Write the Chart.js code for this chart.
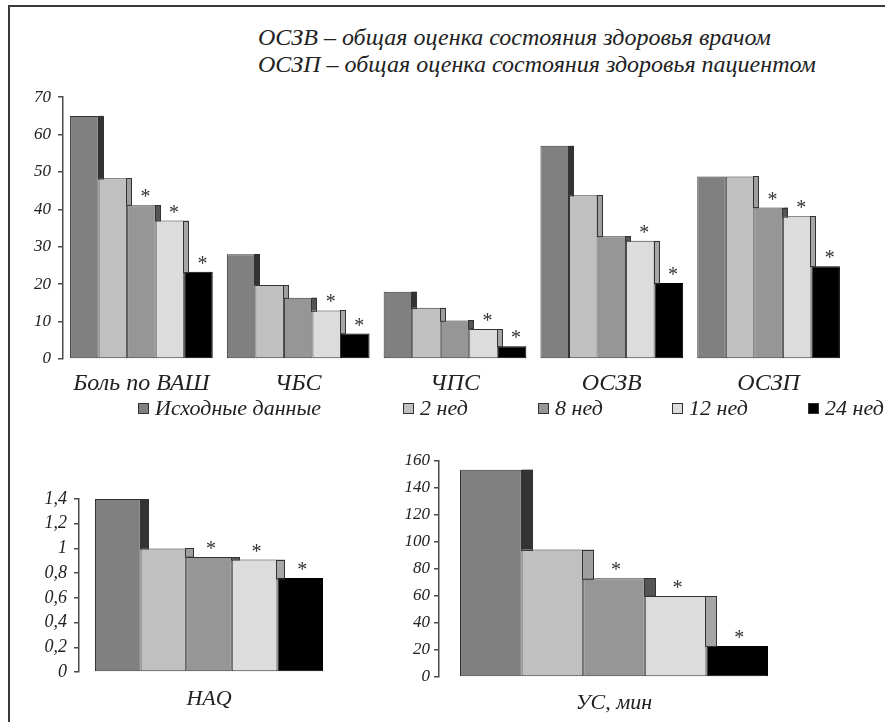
<!DOCTYPE html>
<html>
<head>
<meta charset="utf-8">
<script src="https://cdn.jsdelivr.net/npm/chart.js@4.4.1/dist/chart.umd.min.js"></script>
<style>
  body { margin: 0; width: 885px; height: 722px; overflow: hidden; position: relative; background: #fff;
         font-family: "Liberation Serif", serif; font-style: italic; color: #222; }
  #frame { position: absolute; left: 8px; top: 5px; width: 900px; height: 800px;
           border-left: 2px solid #3a3a3a; border-top: 2px solid #3a3a3a; }
  #title { position: absolute; left: 258px; top: 24px; font-size: 24px; line-height: 27px; white-space: nowrap; }
  #legend { position: absolute; left: 0; top: 395px; width: 885px; height: 26px; font-size: 22px; }
  .item { position: absolute; top: 0; line-height: 26px; white-space: nowrap; }
  .item span { display: inline-block; width: 9px; height: 9px; border: 1px solid #333; margin-right: 6px; vertical-align: 1px; }
  canvas { position: absolute; }
</style>
</head>
<body>
<div id="frame"></div>
<div id="title">
  <div>ОСЗВ – общая оценка состояния здоровья врачом</div>
  <div>ОСЗП – общая оценка состояния здоровья пациентом</div>
</div>
<canvas id="main" width="885" height="319" style="left:0;top:80px"></canvas>
<div id="legend"></div>
<canvas id="haq" width="400" height="242" style="left:0;top:480px"></canvas>
<canvas id="us" width="440" height="282" style="left:380px;top:440px"></canvas>

<script>
const seriesNames = ["Исходные данные", "2 нед", "8 нед", "12 нед", "24 нед"];
const seriesColors = ["#808080", "#c0c0c0", "#969696", "#dcdcdc", "#000000"];
const sideColors = ["#333333", "#9e9e9e", "#555555", "#a6a6a6", "#000000"];

// top chart
const mainCategories = ["Боль по ВАШ", "ЧБС", "ЧПС", "ОСЗВ", "ОСЗП"];
const baseline = [65, 28, 18, 57, 48.8];
const week2 = [48.3, 19.8, 13.7, 43.8, 48.8];
const week8 = [41.1, 16.4, 10.3, 32.8, 40.5];
const week12 = [37, 13, 8, 31.6, 38.2];
const week24 = [23.3, 6.8, 3.4, 20.3, 24.8];
// which series get a "*" in each category
const mainStars = [[2, 3, 4], [3, 4], [3, 4], [3, 4], [2, 3, 4]];

// HAQ
const haqCategories = ["HAQ"];
const haqValues = [1.4, 1.0, 0.93, 0.91, 0.76];
const haqStars = [[2, 3, 4]];

// УС, мин
const usCategories = ["УС, мин"];
const usValues = [153.6, 94.4, 73.1, 60, 23];
const usStars = [[2, 3, 4]];

const legendX = [138, 403, 538, 672, 808];

const serif = "'Liberation Serif', 'Times New Roman', serif";
const textColor = "#222";
const axisColor = "#4a4a4a";

// draws the dark "side" of each bar above the next one, plus the * marks
const stepFaces = {
  id: "stepFaces",
  afterDatasetsDraw(chart, args, opts) {
    const ctx = chart.ctx;
    const n = chart.data.datasets.length;
    ctx.save();
    chart.data.labels.forEach((_, c) => {
      for (let s = 0; s < n - 1; s++) {
        const bar = chart.getDatasetMeta(s).data[c];
        const next = chart.getDatasetMeta(s + 1).data[c];
        const h = next.y - bar.y;
        if (h < 1) continue;
        const w = Math.round(bar.width * opts.depth);
        const x = Math.round(bar.x + bar.width / 2);
        ctx.fillStyle = sideColors[s];
        ctx.fillRect(x, bar.y, w, h);
        ctx.strokeStyle = "#333";
        ctx.lineWidth = 1;
        ctx.strokeRect(x - 0.5, Math.round(bar.y) + 0.5, w, h);
      }
      ctx.fillStyle = "#333";
      ctx.font = "20px " + serif;
      ctx.textAlign = "center";
      ctx.textBaseline = "alphabetic";
      (opts.stars[c] || []).forEach((s) => {
        const bar = chart.getDatasetMeta(s).data[c];
        ctx.fillText("*", bar.x + opts.dx, bar.y - 2);
      });
    });
    ctx.restore();
  },
};

function makeDatasets(seriesValues, catPct) {
  return seriesValues.map((values, i) => ({
    label: seriesNames[i],
    data: values,
    backgroundColor: seriesColors[i],
    borderColor: i === 4 ? "#000" : "#333",
    borderWidth: 1,
    borderSkipped: false,
    categoryPercentage: catPct,
    barPercentage: 1,
  }));
}

function makeChart(canvasId, labels, seriesValues, cfg) {
  return new Chart(document.getElementById(canvasId), {
    type: "bar",
    data: { labels: labels, datasets: makeDatasets(seriesValues, cfg.catPct) },
    plugins: [stepFaces],
    options: {
      responsive: false,
      animation: false,
      layout: { padding: { top: cfg.top, right: cfg.right, left: 0, bottom: 0 } },
      plugins: {
        legend: { display: false },
        tooltip: { enabled: false },
        stepFaces: { depth: cfg.depth, stars: cfg.stars, dx: cfg.dx },
      },
      scales: {
        x: {
          grid: { display: false },
          border: { display: false },
          ticks: { color: textColor, padding: cfg.xPad, font: { family: serif, size: cfg.xFont, style: "italic" } },
          afterFit: (scale) => { scale.height = cfg.xHeight; },
        },
        y: {
          min: 0,
          max: cfg.max,
          ticks: {
            stepSize: cfg.step,
            color: textColor,
            padding: cfg.yPad,
            font: { family: serif, size: cfg.yFont, style: "italic" },
            callback: (v) => String(Math.round(v * 10) / 10).replace(".", ","),
          },
          grid: { drawOnChartArea: false, drawTicks: true, tickLength: 5, color: axisColor, lineWidth: 1.5 },
          border: { color: axisColor, width: 1.5 },
          afterFit: (scale) => { scale.width = cfg.yWidth; },
        },
      },
    },
  });
}

makeChart("main", mainCategories, [baseline, week2, week8, week12, week24], {
  catPct: 0.91, top: 15, right: 38, max: 70, step: 10,
  xFont: 24, xPad: 2, xHeight: 40, yFont: 17, yPad: 7, yWidth: 63,
  depth: 0.18, stars: mainStars, dx: 4,
});

makeChart("haq", haqCategories, haqValues.map((v) => [v]), {
  catPct: 0.877, top: 19, right: 61, max: 1.4, step: 0.2,
  xFont: 22, xPad: 6, xHeight: 50, yFont: 18, yPad: 7, yWidth: 79,
  depth: 0.18, stars: haqStars, dx: 2,
});

makeChart("us", usCategories, usValues.map((v) => [v]), {
  catPct: 0.88, top: 21, right: 31, max: 160, step: 20,
  xFont: 22, xPad: 5, xHeight: 45, yFont: 17, yPad: 4, yWidth: 59,
  depth: 0.18, stars: usStars, dx: 2,
});

// legend row
const legendEl = document.getElementById("legend");
seriesNames.forEach((name, i) => {
  const item = document.createElement("div");
  item.className = "item";
  item.style.left = legendX[i] + "px";
  const box = document.createElement("span");
  box.style.background = seriesColors[i];
  item.appendChild(box);
  item.appendChild(document.createTextNode(name));
  legendEl.appendChild(item);
});
</script>
</body>
</html>
